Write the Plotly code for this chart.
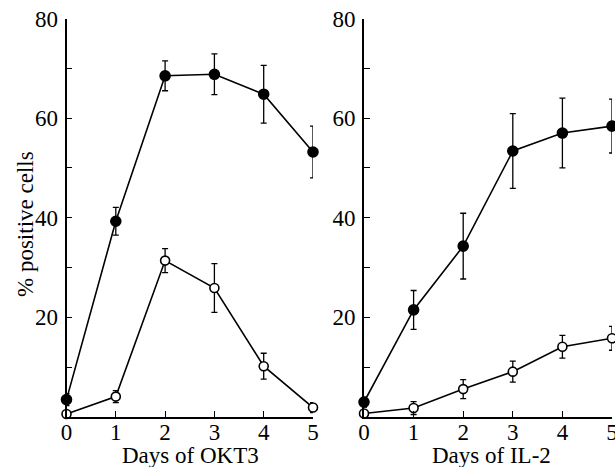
import plotly.graph_objects as go

days = [0, 1, 2, 3, 4, 5]
x_tick_labels = ["0", "1", "2", "3", "4", "5"]
y_tick_vals = [10, 20, 30, 40, 50, 60, 70, 80]
y_tick_labels = ["", "20", "", "40", "", "60", "", "80"]

okt3_filled = [3.5, 39.3, 68.5, 68.8, 64.8, 53.2]
okt3_filled_err = [1.2, 2.8, 3.0, 4.1, 5.8, 5.2]
okt3_open = [0.6, 4.1, 31.4, 25.9, 10.2, 1.9]
okt3_open_err = [0.5, 1.2, 2.4, 4.9, 2.6, 1.0]

il2_filled = [3.0, 21.5, 34.3, 53.4, 57.0, 58.4]
il2_filled_err = [1.0, 3.9, 6.6, 7.5, 7.0, 5.4]
il2_open = [0.7, 1.8, 5.6, 9.1, 14.1, 15.8]
il2_open_err = [0.5, 1.3, 1.9, 2.1, 2.3, 2.4]

FONT = "Liberation Serif"

fig = go.Figure()


def add_series(y, err, filled, xa, ya):
    fig.add_trace(go.Scatter(
        x=days, y=y, xaxis=xa, yaxis=ya, mode="lines+markers",
        line=dict(color="black", width=1.6),
        marker=dict(symbol="circle", size=10 if filled else 9,
                    color="black" if filled else "white",
                    line=dict(color="black", width=1.6)),
        error_y=dict(type="data", array=err, visible=True, color="black",
                     thickness=1.3, width=3),
        cliponaxis=False, showlegend=False, hoverinfo="skip"))


add_series(okt3_filled, okt3_filled_err, True, "x", "y")
add_series(okt3_open, okt3_open_err, False, "x", "y")
add_series(il2_filled, il2_filled_err, True, "x2", "y2")
add_series(il2_open, il2_open_err, False, "x2", "y2")

xcommon = dict(range=[0, 5], showline=True, linecolor="black", linewidth=1.6,
               ticks="inside", ticklen=6, tickwidth=1.4, tickcolor="black",
               tickvals=days, ticktext=x_tick_labels, showgrid=False,
               zeroline=False, automargin=False, ticklabeloverflow="allow",
               ticklabelstandoff=-6,
               tickfont=dict(family=FONT, size=23, color="black"))
ycommon = dict(range=[0, 80], showline=True, linecolor="black", linewidth=1.6,
               ticks="inside", ticklen=6, tickwidth=1.4, tickcolor="black",
               tickvals=y_tick_vals, ticktext=y_tick_labels, showgrid=False,
               zeroline=False, automargin=False, ticklabeloverflow="allow",
               ticklabelstandoff=2,
               tickfont=dict(family=FONT, size=23, color="black"))

fig.update_layout(
    width=615, height=467,
    margin=dict(l=0, r=0, t=0, b=0, autoexpand=False),
    paper_bgcolor="white", plot_bgcolor="white",
    font=dict(family=FONT, color="black"),
    xaxis=dict(domain=[66.5 / 615, 313 / 615], anchor="y", **xcommon),
    yaxis=dict(domain=[50 / 467, 448.5 / 467], anchor="x", **ycommon),
    xaxis2=dict(domain=[364 / 615, 612 / 615], anchor="y2", **xcommon),
    yaxis2=dict(domain=[50 / 467, 448.5 / 467], anchor="x2", **ycommon),
    annotations=[
        dict(text="% positive cells", x=25 / 615, y=1 - 224 / 467,
             xref="paper", yref="paper", showarrow=False, textangle=-90,
             xanchor="center", yanchor="middle",
             font=dict(family=FONT, size=23, color="black")),
        dict(text="Days of OKT3", x=190 / 615, y=1 - 455 / 467,
             xref="paper", yref="paper", showarrow=False,
             xanchor="center", yanchor="middle",
             font=dict(family=FONT, size=23, color="black")),
        dict(text="Days of IL-2", x=491 / 615, y=1 - 455 / 467,
             xref="paper", yref="paper", showarrow=False,
             xanchor="center", yanchor="middle",
             font=dict(family=FONT, size=23, color="black")),
    ],
)

fig.write_html("out.html")
